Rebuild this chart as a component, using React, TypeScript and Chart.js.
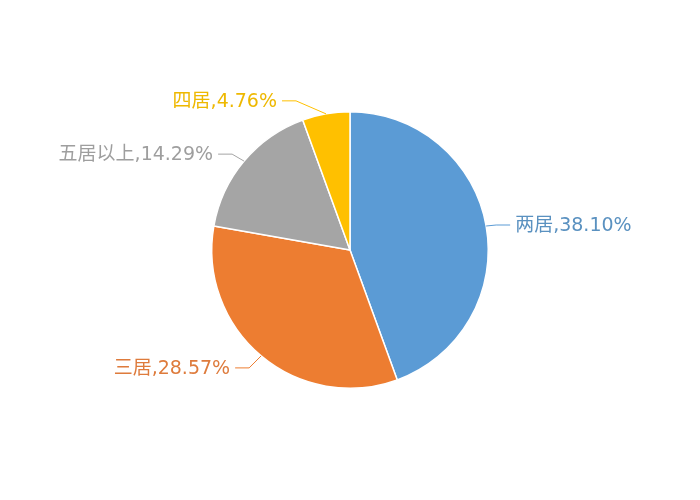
import { useEffect, useRef } from "react";
import { Chart, registerables, Plugin } from "chart.js";

Chart.register(...registerables);

// data (Excel normalises the pie to the sum of the slices)
const categories = ["两居", "三居", "五居以上", "四居"];
const shares = [38.1, 28.57, 14.29, 4.76];
const sliceColors = ["#5B9BD5", "#ED7D31", "#A5A5A5", "#FFC000"];
const labelColors = ["#5A91C0", "#DE7B3C", "#9E9E9E", "#EEB800"];

// elbow of each leader line, relative to the point on the rim, and the length of the flat part
const elbows: [number, number][] = [
  [10, -1],
  [-12, 12],
  [-12, -7],
  [-30, -13],
];
const FLAT = 14;
const FONT = '19px "DejaVu Sans", "Noto Sans CJK SC", sans-serif';

const outsideLabels: Plugin<"pie"> = {
  id: "outsideLabels",
  afterDatasetsDraw(chart) {
    const ctx = chart.ctx;
    const meta = chart.getDatasetMeta(0);
    meta.data.forEach((el: any, i) => {
      const { x, y, startAngle, endAngle, outerRadius } = el.getProps(
        ["x", "y", "startAngle", "endAngle", "outerRadius"],
        true
      );
      const mid = (startAngle + endAngle) / 2;
      const px = x + Math.cos(mid) * outerRadius;
      const py = y + Math.sin(mid) * outerRadius;
      const ex = px + elbows[i][0];
      const ey = py + elbows[i][1];
      const right = Math.cos(mid) >= 0;
      const fx = ex + (right ? FLAT : -FLAT);

      ctx.save();
      ctx.strokeStyle = sliceColors[i];
      ctx.lineWidth = 1;
      ctx.beginPath();
      ctx.moveTo(px, py);
      ctx.lineTo(ex, ey);
      ctx.lineTo(fx, ey);
      ctx.stroke();

      ctx.font = FONT;
      ctx.fillStyle = labelColors[i];
      ctx.textBaseline = "middle";
      ctx.textAlign = right ? "left" : "right";
      const text = `${categories[i]},${shares[i].toFixed(2)}%`;
      ctx.fillText(text, fx + (right ? 5 : -5), ey + 1);
      ctx.restore();
    });
  },
};

const PieChart = () => {
  const canvasRef = useRef<HTMLCanvasElement | null>(null);

  useEffect(() => {
    if (!canvasRef.current) return;
    const chart = new Chart(canvasRef.current, {
      type: "pie",
      data: {
        labels: categories,
        datasets: [
          {
            data: shares,
            backgroundColor: sliceColors,
            borderColor: "#ffffff",
            borderWidth: 1.5,
          },
        ],
      },
      options: {
        responsive: false,
        animation: false,
        layout: { padding: { top: 111, bottom: 111, left: 0, right: 0 } },
        plugins: {
          legend: { display: false },
          tooltip: { enabled: false },
        },
      },
      plugins: [outsideLabels],
    });
    return () => chart.destroy();
  }, []);

  return <canvas ref={canvasRef} width={700} height={500} />;
};

export default function App() {
  useEffect(() => {
    document.body.style.margin = "0";
  }, []);
  return (
    <div style={{ width: 700, height: 500, background: "#fff" }}>
      <PieChart />
    </div>
  );
}
